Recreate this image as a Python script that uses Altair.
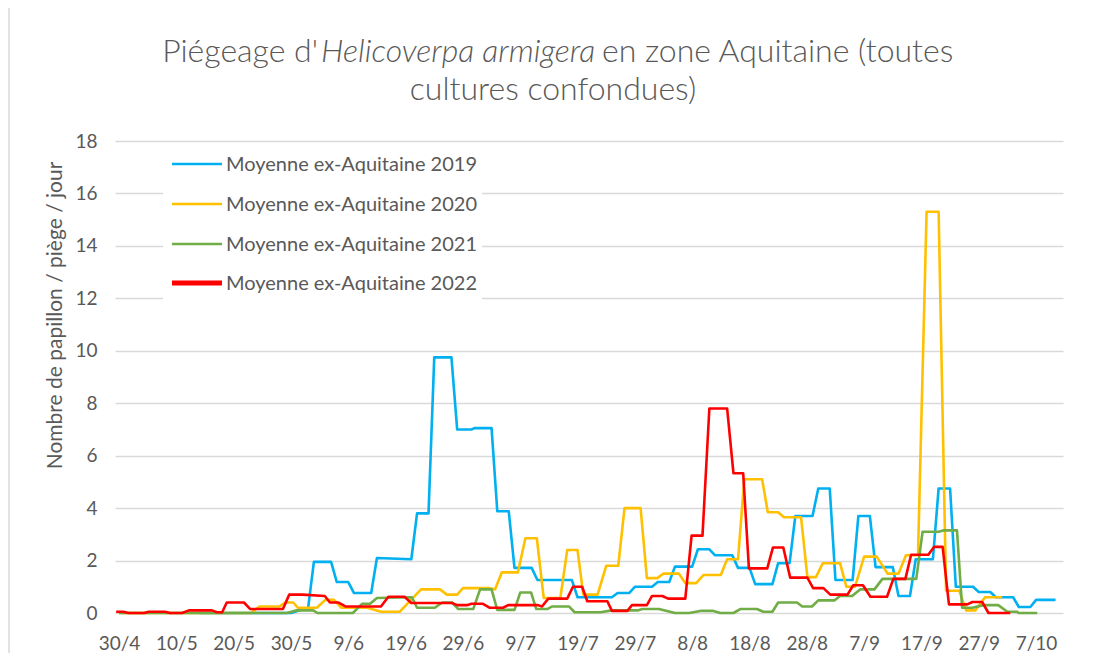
import altair as alt
import pandas as pd

series_names = ["Moyenne ex-Aquitaine 2019", "Moyenne ex-Aquitaine 2020",
                "Moyenne ex-Aquitaine 2021", "Moyenne ex-Aquitaine 2022"]
colors = ["#00B0F0", "#FFC000", "#70AD47", "#FF0000"]
widths = [2.6, 2.6, 2.6, 5.0]
x_tick_labels = ["30/4", "10/5", "20/5", "30/5", "9/6", "19/6", "29/6", "9/7", "19/7",
                 "29/7", "8/8", "18/8", "28/8", "7/9", "17/9", "27/9", "7/10"]
y_ticks = [0, 2, 4, 6, 8, 10, 12, 14, 16, 18]

# x = days after 30/4
day_2019 = [14, 30, 33, 34, 37, 38, 40, 41, 44, 45, 51, 52, 54, 55, 58, 59, 61.5, 62, 65, 66,
            68, 69, 72, 73, 79, 80, 86, 87, 89, 90, 93, 94, 96, 97, 100, 101, 103, 104, 107, 108,
            110, 111, 114, 115, 117, 118, 121, 122, 124, 125, 128, 129, 131, 132, 135, 136, 138, 139, 142, 143,
            145, 146, 149, 150, 152, 153, 156, 157, 159, 160, 163.4]
val_2019 = [0, 0, 0.2, 1.95, 1.95, 1.18, 1.18, 0.76, 0.76, 2.1, 2.05, 3.8, 3.8, 9.75, 9.75, 7.0, 7.0, 7.05, 7.05, 3.88,
            3.88, 1.72, 1.72, 1.26, 1.26, 0.6, 0.6, 0.76, 0.76, 1.0, 1.0, 1.18, 1.18, 1.77, 1.77, 2.43, 2.43, 2.2, 2.2, 1.72,
            1.72, 1.1, 1.1, 1.9, 1.9, 3.7, 3.7, 4.75, 4.75, 1.26, 1.26, 3.7, 3.7, 1.75, 1.75, 0.65, 0.65, 2.05, 2.05, 4.75,
            4.75, 1.0, 1.0, 0.8, 0.8, 0.6, 0.6, 0.23, 0.23, 0.5, 0.5]

day_2020 = [0, 23, 24.5, 28, 29, 30.4, 31.2, 34.5, 36, 37.5, 38.8, 43.3, 45.7, 49, 52.7, 56, 57.2, 59, 60, 64.4,
            65.6, 66.8, 69.6, 70.9, 72.9, 74.1, 77, 78.2, 80, 81, 83.5, 85, 87.1, 88.2, 91, 92.1, 93.9, 95, 97.7, 98.8,
            100.7, 102, 105, 106.1, 108, 109.1, 112.2, 113.2, 115, 116, 119, 120.1, 121.6, 122.8, 125.8, 126.9, 128.4, 130, 132.2, 134.1,
            136, 137.3, 139.4, 140.9, 143, 144.3, 146.6, 147.8, 149.4, 151.1, 154.1]
val_2020 = [0, 0, 0.25, 0.25, 0.4, 0.4, 0.2, 0.2, 0.5, 0.5, 0.2, 0.2, 0.05, 0.05, 0.9, 0.9, 0.7, 0.7, 0.95, 0.95,
            0.9, 1.55, 1.55, 2.85, 2.85, 0.57, 0.57, 2.4, 2.4, 0.7, 0.7, 1.8, 1.8, 4.0, 4.0, 1.33, 1.33, 1.5, 1.5, 1.14,
            1.14, 1.45, 1.45, 2.05, 2.05, 5.1, 5.1, 3.84, 3.84, 3.65, 3.65, 1.37, 1.37, 1.9, 1.9, 1.0, 1.0, 2.15, 2.15, 1.5,
            1.5, 2.2, 2.2, 15.3, 15.3, 0.85, 0.85, 0.1, 0.1, 0.6, 0.6]

day_2021 = [0, 29.3, 31, 33.9, 34.6, 40.8, 42.4, 43.8, 45, 51.1, 52, 55.1, 56.4, 58.1, 59.2, 61.8, 63, 65, 66, 69,
            70, 71.9, 72.8, 74.7, 75.6, 78.5, 79.5, 84, 86, 90.5, 91.3, 94.2, 97, 99.5, 101.4, 103.7, 104.9, 107.2, 108.4, 111.3,
            112.4, 114, 115, 118.3, 119.2, 120.9, 122, 124.8, 125.8, 127.9, 129.3, 131.8, 133.2, 139.1, 140.2, 143, 143.8, 146.2, 147.1, 148.9,
            150.8, 153.4, 155, 156.7, 156.9, 160.2]
val_2021 = [0, 0, 0.1, 0.1, 0, 0, 0.35, 0.35, 0.57, 0.6, 0.2, 0.2, 0.4, 0.4, 0.15, 0.15, 0.9, 0.9, 0.12, 0.12,
            0.78, 0.78, 0.15, 0.15, 0.25, 0.25, 0.03, 0.03, 0.1, 0.1, 0.15, 0.15, 0, 0, 0.08, 0.08, 0, 0, 0.15, 0.15,
            0.05, 0.05, 0.4, 0.4, 0.25, 0.25, 0.48, 0.48, 0.65, 0.65, 0.9, 0.9, 1.3, 1.3, 3.1, 3.1, 3.15, 3.15, 0.2, 0.2,
            0.3, 0.3, 0.05, 0.05, 0, 0]

day_2022 = [-0.5, 0.7, 1.7, 4.4, 5.2, 8, 8.9, 11, 12.2, 16.2, 17.1, 18, 18.8, 21.8, 22.9, 28.6, 29.7, 32, 35.9, 36.8,
            38.3, 39.5, 45.7, 47, 49.8, 51, 58.1, 59, 60.7, 61.5, 63.5, 64.7, 67, 67.9, 73.1, 73.8, 74.9, 78.2, 79.2, 80.8,
            81.7, 85.2, 86, 88.7, 89.5, 92.1, 93, 94.8, 95.8, 98.8, 99.9, 101.8, 103, 106.1, 107.2, 108.9, 109.9, 113.1, 114.1, 115.9,
            117.1, 120.1, 121.1, 122.9, 124.1, 127.1, 128.1, 129.8, 131.1, 134, 135.1, 137.2, 138.2, 141.2, 142.2, 143.7, 144.8, 148, 148.9, 150.6,
            151.7, 155.5]
val_2022 = [0.05, 0.05, 0, 0, 0.05, 0.05, 0, 0, 0.1, 0.1, 0.03, 0.03, 0.4, 0.4, 0.15, 0.15, 0.7, 0.7, 0.65, 0.4,
            0.4, 0.25, 0.25, 0.62, 0.62, 0.38, 0.38, 0.3, 0.3, 0.35, 0.35, 0.2, 0.2, 0.3, 0.3, 0.25, 0.55, 0.55, 1.0, 1.0,
            0.45, 0.45, 0.08, 0.08, 0.3, 0.3, 0.65, 0.65, 0.55, 0.55, 2.95, 2.95, 7.8, 7.8, 5.33, 5.33, 1.7, 1.7, 2.5, 2.5,
            1.35, 1.35, 0.95, 0.95, 0.7, 0.7, 1.06, 1.06, 0.62, 0.62, 1.3, 1.3, 2.22, 2.22, 2.52, 2.52, 0.33, 0.33, 0.42, 0.42,
            0, 0]

all_days = [day_2019, day_2020, day_2021, day_2022]
all_vals = [val_2019, val_2020, val_2021, val_2022]

rows = []
for name, days, vals in zip(series_names, all_days, all_vals):
    for i, (d, v) in enumerate(zip(days, vals)):
        rows.append({"series": name, "day": d, "value": v, "idx": i})
df = pd.DataFrame(rows)

TXT = "#595959"
FONT = "Lato"
one = pd.DataFrame({"k": [0]})

label_expr = str(x_tick_labels) + "[round(datum.value / 10)]"

lines = alt.Chart(df).mark_line(strokeJoin="round").encode(
    x=alt.X("day:Q", scale=alt.Scale(domain=[-0.7, 164.7], nice=False, zero=False),
            axis=alt.Axis(values=list(range(0, 161, 10)), labelExpr=label_expr, title=None,
                          grid=False, domain=False, ticks=False, tickSize=0,
                          labelFontSize=19, labelColor=TXT, labelFont=FONT, labelPadding=21,
                          labelFlush=False)),
    y=alt.Y("value:Q", scale=alt.Scale(domain=[0, 18], nice=False),
            axis=alt.Axis(values=y_ticks, title="Nombre de papillon / piège / jour",
                          grid=True, gridColor="#D9D9D9", gridWidth=1.5, domain=False,
                          ticks=False, tickSize=0, labelFontSize=19, labelColor=TXT,
                          labelFont=FONT, labelPadding=18, titleFontSize=21, titleColor=TXT,
                          titleFont=FONT, titleFontWeight="normal", titleX=-60, titleY=174,
                          titleAngle=270, titleAlign="center", titleBaseline="middle")),
    color=alt.Color("series:N", scale=alt.Scale(domain=series_names, range=colors), legend=None),
    strokeWidth=alt.StrokeWidth("series:N", scale=alt.Scale(domain=series_names, range=widths),
                                legend=None),
    order="idx:Q",
)

# legend (drawn inside the plot, top-left, on a white box)
legend_layers = [
    alt.Chart(one).mark_rect(fill="white").encode(
        x=alt.value(48), x2=alt.value(367), y=alt.value(6), y2=alt.value(160))
]
legend_rows_y = [23, 63, 103, 142]
for name, col, w, yy in zip(series_names, colors, widths, legend_rows_y):
    legend_layers.append(
        alt.Chart(one).mark_rule(color=col, strokeWidth=w).encode(
            x=alt.value(57), x2=alt.value(107), y=alt.value(yy)))
    legend_layers.append(
        alt.Chart(one).mark_text(text=name, align="left", baseline="middle", font=FONT,
                                 fontSize=20, color=TXT).encode(
            x=alt.value(111), y=alt.value(yy + 1)))

title_parts = ["Piégeage d'", "Helicoverpa armigera", "en zone Aquitaine (toutes", "cultures confondues)"]


def ttext(txt, xpos, ypos, align, style="normal"):
    return alt.Chart(one).mark_text(text=txt, align=align, baseline="alphabetic", font=FONT,
                                    fontSize=32, fontWeight=300, fontStyle=style, color=TXT).encode(
        x=alt.value(xpos), y=alt.value(ypos))


t1 = ttext(title_parts[0], 203, -79, "right")
t2 = ttext(title_parts[1], 206, -79, "left", "italic")
t3 = ttext(title_parts[2], 487, -79, "left")
t4 = ttext(title_parts[3], 438, -41, "center")

# thin chart-area border at the left edge
border = alt.Chart(one).mark_rule(color="#D9D9D9", strokeWidth=1.5).encode(
    x=alt.value(-106), y=alt.value(-133), y2=alt.value(512))

chart = alt.layer(lines, *legend_layers, t1, t2, t3, t4, border).properties(
    width=948, height=472,
    autosize=alt.AutoSizeParams(type="none"),
    padding={"left": 107, "top": 133, "right": 29, "bottom": 40},
).configure(font=FONT).configure_view(stroke=None)

chart.save("out.html", embed_options={"renderer": "svg", "actions": False})
